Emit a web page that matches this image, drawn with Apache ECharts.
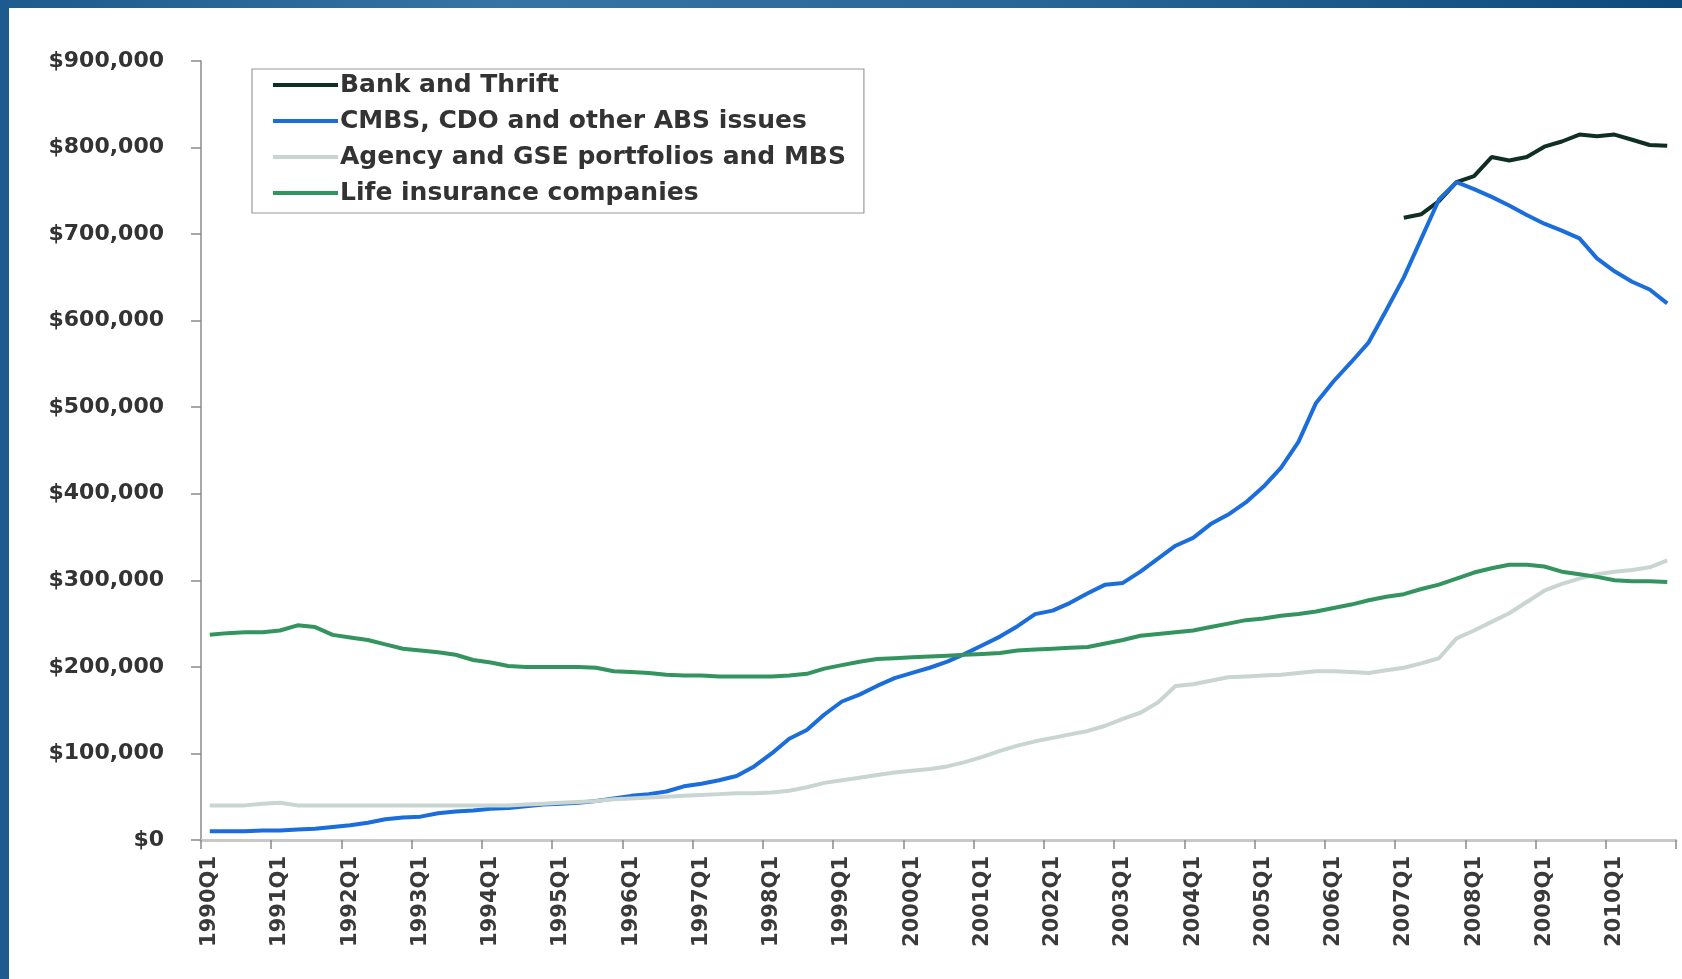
<!DOCTYPE html>
<html>
<head>
<meta charset="utf-8">
<script src="https://cdn.jsdelivr.net/npm/echarts@6/dist/echarts.min.js"></script>
<style>
  html, body { margin: 0; padding: 0; width: 1682px; height: 979px; overflow: hidden; }
  body { background: linear-gradient(90deg, #1d5b8e 0%, #3574a3 30%, #2a6797 60%, #0e4a7e 100%); position: relative; }
  #panel { position: absolute; left: 9px; top: 8px; right: 0; bottom: 0; background: #ffffff; }
  #chart { position: absolute; left: 0; top: 0; width: 1682px; height: 979px; }
</style>
</head>
<body>
<div id="panel"></div>
<div id="chart"></div>
<script>
// Quarter categories 1990Q1 .. 2010Q4
const years = [];
for (let y = 1990; y <= 2010; y++) years.push(y);
const quarters = [];
years.forEach(y => { for (let q = 1; q <= 4; q++) quarters.push(y + 'Q' + q); });

const seriesNames = [
  'Bank and Thrift',
  'CMBS, CDO and other ABS issues',
  'Agency and GSE portfolios and MBS',
  'Life insurance companies'
];

const bankThrift = [
  null,null,null,null, null,null,null,null, null,null,null,null, null,null,null,null,
  null,null,null,null, null,null,null,null, null,null,null,null, null,null,null,null,
  null,null,null,null, null,null,null,null, null,null,null,null, null,null,null,null,
  null,null,null,null, null,null,null,null, null,null,null,null, null,null,null,null,
  null,null,null,null,
  719000,723000,738000,760000, 767000,789000,785000,789000,
  801000,807000,815000,813000, 815000,809000,803000,802000
];

const cmbs = [
  10000,10000,10000,11000, 11000,12000,13000,15000, 17000,20000,24000,26000,
  27000,31000,33000,34000, 36000,37000,39000,41000, 42000,43000,45000,48000,
  51000,53000,56000,62000, 65000,69000,74000,85000, 100000,117000,127000,145000,
  160000,168000,178000,187000, 193000,199000,206000,215000, 225000,235000,247000,261000,
  265000,274000,285000,295000, 297000,310000,325000,340000, 349000,365000,376000,390000,
  408000,430000,460000,505000, 530000,552000,575000,612000, 650000,695000,740000,760000,
  752000,743000,733000,722000, 712000,704000,695000,672000, 657000,645000,636000,620000
];

const agency = [
  40000,40000,40000,42000, 43000,40000,40000,40000, 40000,40000,40000,40000,
  40000,40000,40000,40000, 40000,40000,41000,42000, 43000,44000,45000,47000,
  48000,49000,50000,51000, 52000,53000,54000,54000, 55000,57000,61000,66000,
  69000,72000,75000,78000, 80000,82000,85000,90000, 96000,103000,109000,114000,
  118000,122000,126000,132000, 140000,147000,159000,178000, 180000,184000,188000,189000,
  190000,191000,193000,195000, 195000,194000,193000,196000, 199000,204000,210000,233000,
  242000,252000,262000,275000, 288000,296000,302000,307000, 310000,312000,315000,323000
];

const lifeIns = [
  237000,239000,240000,240000, 242000,248000,246000,237000, 234000,231000,226000,221000,
  219000,217000,214000,208000, 205000,201000,200000,200000, 200000,200000,199000,195000,
  194000,193000,191000,190000, 190000,189000,189000,189000, 189000,190000,192000,198000,
  202000,206000,209000,210000, 211000,212000,213000,214000, 215000,216000,219000,220000,
  221000,222000,223000,227000, 231000,236000,238000,240000, 242000,246000,250000,254000,
  256000,259000,261000,264000, 268000,272000,277000,281000, 284000,290000,295000,302000,
  309000,314000,318000,318000, 316000,310000,307000,304000, 300000,299000,299000,298000
];

const yTicks = [0, 100000, 200000, 300000, 400000, 500000, 600000, 700000, 800000, 900000];

const colors = ['#0f2f25', '#1a6ddb', '#c9d5d0', '#34945f'];
const dataSets = [bankThrift, cmbs, agency, lifeIns];

const chart = echarts.init(document.getElementById('chart'), null, { renderer: 'canvas' });
chart.setOption({
  animation: false,
  backgroundColor: 'transparent',
  color: colors,
  grid: { left: 201, right: 6, top: 61, bottom: 139, containLabel: false },
  legend: {
    orient: 'vertical',
    left: 252,
    top: 69,
    padding: [3, 18, 7, 21],
    itemGap: 10,
    itemWidth: 65,
    itemHeight: 4,
    icon: 'rect',
    backgroundColor: '#ffffff',
    borderColor: '#9a9a9a',
    borderWidth: 1.2,
    data: seriesNames,
    textStyle: {
      fontFamily: 'DejaVu Sans',
      fontWeight: 'bold',
      fontSize: 25,
      lineHeight: 26,
      color: '#333333',
      padding: [0, 0, 0, -3]
    }
  },
  xAxis: {
    type: 'category',
    data: quarters,
    boundaryGap: true,
    axisLine: { show: true, lineStyle: { color: '#c8c8c8', width: 3 } },
    axisTick: { show: true, interval: 3, length: 9, lineStyle: { color: '#8a8a8a', width: 1.5 } },
    axisLabel: {
      interval: 3,
      rotate: 90,
      margin: 16,
      fontFamily: 'DejaVu Sans',
      fontWeight: 'bold',
      fontSize: 21,
      color: '#3a3a3a'
    },
    splitLine: { show: false }
  },
  yAxis: {
    type: 'value',
    min: yTicks[0],
    max: yTicks[yTicks.length - 1],
    interval: yTicks[1] - yTicks[0],
    axisLine: { show: true, lineStyle: { color: '#8a8a8a', width: 1.5 } },
    axisTick: { show: true, length: 10, lineStyle: { color: '#8a8a8a', width: 1.5 } },
    splitLine: { show: false },
    axisLabel: {
      margin: 37,
      fontFamily: 'DejaVu Sans',
      fontWeight: 'bold',
      fontSize: 22,
      color: '#333333',
      formatter: v => '$' + v.toLocaleString('en-US')
    }
  },
  series: seriesNames.map((name, i) => ({
    name: name,
    type: 'line',
    data: dataSets[i],
    showSymbol: false,
    symbol: 'none',
    connectNulls: false,
    lineStyle: { width: 4, color: colors[i] },
    itemStyle: { color: colors[i] },
    emphasis: { disabled: true }
  }))
});
</script>
</body>
</html>
